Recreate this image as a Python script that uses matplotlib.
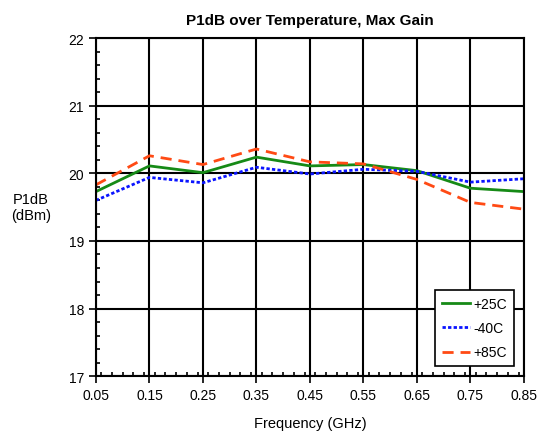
import matplotlib.pyplot as plt
from matplotlib.ticker import MultipleLocator

plt.rcParams['font.family'] = ['Liberation Sans', 'DejaVu Sans']

# Data
freq = [0.05, 0.15, 0.25, 0.35, 0.45, 0.55, 0.65, 0.75, 0.85]
p1db_25c = [19.73, 20.11, 20.01, 20.24, 20.11, 20.13, 20.04, 19.78, 19.73]
p1db_m40c = [19.60, 19.94, 19.86, 20.09, 19.99, 20.06, 20.03, 19.87, 19.92]
p1db_85c = [19.83, 20.26, 20.13, 20.36, 20.17, 20.14, 19.91, 19.57, 19.47]

fig = plt.figure(figsize=(5.39, 4.35), dpi=100)
ax = fig.add_axes([0.178, 0.133, 0.794, 0.777])

ax.plot(freq, p1db_25c, color='#168a16', lw=2, label='+25C')
ax.plot(freq, p1db_m40c, color='#0a14ff', lw=2, linestyle=(0, (1.2, 0.8)), label='-40C')
ax.plot(freq, p1db_85c, color='#ff4a14', lw=2, linestyle=(0, (4, 2.5)), label='+85C')

ax.set_xlim(0.05, 0.85)
ax.set_ylim(17, 22)
ax.set_xticks(freq)
ax.set_xticklabels([f'{f:.2f}' for f in freq])
ax.xaxis.set_minor_locator(MultipleLocator(0.02))
ax.yaxis.set_major_locator(MultipleLocator(1))
ax.yaxis.set_minor_locator(MultipleLocator(0.2))
ax.tick_params(which='major', direction='out', length=5, width=1.2, labelsize=10)
ax.tick_params(which='minor', direction='in', length=3, width=1.2)
ax.tick_params(axis='x', which='minor', top=False)
ax.tick_params(axis='y', which='minor', right=False)
ax.grid(True, which='major', color='black', lw=1.5)
for s in ax.spines.values():
    s.set_linewidth(1.5)

ax.set_title('P1dB over Temperature, Max Gain', fontsize=11, fontweight='bold', pad=10)
ax.set_xlabel('Frequency (GHz)', fontsize=10.5, labelpad=10)
ax.set_ylabel('P1dB\n(dBm)', fontsize=10.5, rotation=0, ha='center', va='center', labelpad=27)

leg = ax.legend(loc='lower right', fontsize=10, fancybox=False, framealpha=1,
                edgecolor='black', handlelength=2.0, handletextpad=0.25,
                borderaxespad=0.7, labelspacing=0.75, borderpad=0.5)
leg.get_frame().set_linewidth(1.2)

fig.savefig('out.png', dpi=100)
